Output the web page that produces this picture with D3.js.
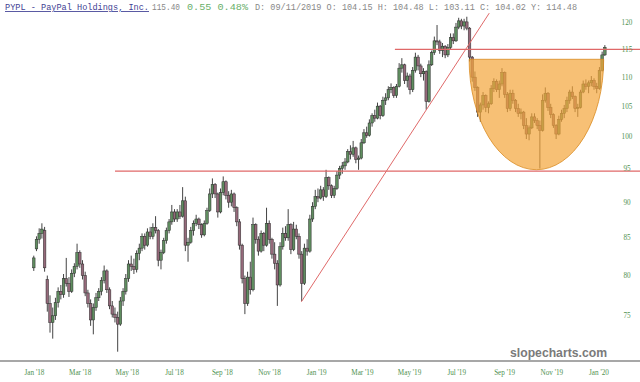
<!DOCTYPE html>
<html><head><meta charset="utf-8">
<script src="https://cdn.jsdelivr.net/npm/d3@7"></script>
<style>body{margin:0;background:#fff}svg{display:block}</style>
</head><body><svg id="c" width="640" height="382"></svg>
<script>
// ---- data (half-week candles) ----
const open = [81.0,83.5,84.8,85.6,86.0,79.5,76.5,74.2,75.0,76.6,78.0,77.6,79.6,79.0,78.0,80.3,81.2,83.0,81.5,80.0,77.8,76.5,74.5,76.0,77.2,78.0,79.4,80.6,78.2,76.2,75.2,74.8,74.0,76.8,78.0,79.6,81.5,81.2,80.8,82.9,83.6,85.2,84.0,85.8,85.2,86.4,86.0,82.0,83.0,84.6,86.0,87.2,
88.6,87.6,88.6,88.0,90.2,84.0,84.4,86.0,87.0,87.6,86.8,85.4,87.0,88.8,91.2,92.6,91.2,88.6,91.4,93.0,91.0,90.0,91.2,89.2,87.2,84.0,79.6,76.5,79.8,78.2,86.8,84.8,83.2,85.6,84.0,87.0,84.8,82.8,81.6,78.8,83.8,85.6,85.0,86.8,83.4,86.2,85.2,82.8,79.0,83.6,83.2,87.6,89.4,90.8,90.6,91.8,90.8,
93.6,92.4,91.0,92.0,94.0,95.0,95.4,96.0,97.6,97.2,98.2,96.4,96.6,99.0,100.6,100.2,102.2,103.4,103.0,105.0,103.4,106.0,106.4,107.8,108.2,106.8,108.4,111.6,112.2,109.4,110.2,107.8,111.2,113.6,112.0,110.6,111.0,105.8,112.2,114.4,116.6,116.4,114.8,115.6,114.0,115.4,117.2,116.6,119.2,120.4,119.4,120.2,119.0,
113.6,110.0,108.2,104.0,105.2,106.8,104.8,105.4,108.0,109.2,107.8,108.8,110.8,107.0,104.6,107.2,106.0,104.6,103.8,104.0,101.8,100.4,101.4,103.2,102.6,101.8,101.0,106.0,107.2,104.8,103.6,101.8,100.4,102.8,103.8,104.6,106.0,107.4,106.6,104.6,104.8,107.4,108.8,108.4,109.0,109.4,108.4,108.0,111.2,114.0];
const high = [82.6,85.2,86.3,87.0,86.5,80.0,77.5,76.0,77.2,78.5,78.8,80.2,82.3,79.8,80.8,81.6,84.2,83.3,82.0,80.5,78.2,77.0,76.5,77.8,78.4,79.8,81.3,80.8,78.5,76.8,76.0,75.5,77.3,78.4,80.2,82.0,82.6,82.2,83.3,84.2,85.6,85.6,86.3,86.5,87.0,88.0,86.2,83.4,85.0,86.4,87.6,89.6,
89.0,89.0,89.6,92.2,90.8,85.0,86.5,87.4,88.2,87.8,87.0,87.4,89.2,92.0,93.5,92.8,91.4,92.0,93.8,93.2,91.6,91.8,91.4,89.4,87.6,84.2,80.0,80.5,81.8,87.8,87.0,85.2,86.0,85.8,89.2,87.4,85.0,84.4,82.0,84.4,86.4,86.6,89.0,87.0,87.2,86.8,85.6,83.2,84.2,84.8,88.2,90.0,91.8,92.0,92.4,92.2,94.8,
93.8,92.6,92.4,94.6,95.4,96.0,96.6,98.0,98.6,99.3,98.4,97.0,99.6,101.2,101.6,102.8,103.8,104.4,105.6,105.2,106.6,107.2,108.4,108.9,108.4,108.8,112.5,113.4,112.4,110.8,110.6,111.8,114.4,114.0,112.4,111.6,111.2,113.0,114.8,117.4,119.6,116.8,116.2,115.8,116.0,118.0,118.0,120.0,121.0,120.8,120.8,121.2,119.2,
113.8,111.0,108.4,105.6,107.4,107.0,105.8,108.6,109.8,109.6,109.4,111.6,111.0,107.4,107.8,107.8,106.2,105.4,104.6,104.2,103.0,101.8,103.8,103.8,103.0,102.6,107.0,108.2,107.4,105.4,103.8,102.0,103.4,104.4,105.2,106.6,107.8,108.4,106.8,105.4,107.8,109.4,109.6,109.4,110.2,109.8,109.0,111.8,114.6,115.8];
const low = [80.6,83.2,84.2,84.9,80.5,75.5,73.0,72.3,74.5,76.0,77.0,77.2,78.6,77.3,77.8,79.8,80.8,81.0,79.5,77.4,76.0,73.8,72.8,75.6,76.8,77.5,79.0,77.8,75.8,74.8,74.2,70.8,73.8,76.2,77.6,79.2,80.6,80.2,80.4,82.0,83.2,83.4,83.8,84.8,84.8,85.6,81.2,80.8,82.8,84.2,85.6,86.8,
87.2,87.2,87.6,87.8,83.2,81.8,84.2,85.3,86.6,86.2,85.0,85.2,86.8,88.6,90.6,90.6,87.8,88.4,91.0,90.4,89.2,89.4,88.6,86.6,83.4,79.0,75.2,76.2,77.6,78.0,84.2,82.6,83.0,83.2,83.8,84.2,82.2,80.8,76.2,78.6,83.4,84.6,84.6,82.8,83.2,84.8,82.2,76.8,78.8,82.6,83.0,87.2,89.0,90.0,90.4,90.2,90.6,
91.8,90.6,90.6,91.8,93.4,94.2,94.8,95.8,96.4,96.8,95.8,94.8,96.4,98.8,99.8,100.0,101.6,102.4,102.8,102.8,103.2,105.2,106.0,107.2,106.4,106.4,108.2,110.8,108.8,108.2,107.0,107.4,110.8,111.2,110.0,109.4,104.4,105.6,112.0,114.0,115.8,114.2,113.6,113.4,113.6,115.0,116.0,116.4,118.8,118.8,118.6,118.6,112.8,
109.2,107.6,103.2,102.4,104.4,104.0,103.8,105.2,107.4,107.4,106.4,108.4,106.4,104.0,104.2,105.4,104.0,103.2,102.8,101.2,99.6,99.4,101.2,102.2,101.2,95.0,100.8,105.6,104.2,103.0,101.4,99.6,100.2,102.4,103.0,104.0,105.4,106.2,104.0,103.2,104.6,107.2,107.8,107.2,108.4,107.8,107.2,107.8,111.0,113.8];
const close = [82.3,84.8,85.6,86.2,81.0,76.5,74.2,75.0,76.6,78.0,77.6,79.6,79.0,78.0,80.3,81.2,83.0,81.5,80.0,77.8,76.5,74.5,76.0,77.2,78.0,79.4,80.6,78.2,76.2,75.2,74.8,74.0,76.8,78.0,79.6,81.5,81.2,80.8,82.9,83.6,85.2,84.0,85.8,85.2,86.4,86.0,82.0,83.0,84.6,86.0,87.2,88.6,
87.6,88.6,88.0,90.2,84.0,84.4,86.0,87.0,87.6,86.8,85.4,87.0,88.8,91.2,92.6,91.2,88.6,91.4,93.0,91.0,90.0,91.2,89.2,87.2,84.0,79.6,76.5,79.8,78.2,86.8,84.8,83.2,85.6,84.0,87.0,84.8,82.8,81.6,78.8,83.8,85.6,85.0,86.8,83.4,86.2,85.2,82.8,79.0,83.6,83.2,87.6,89.4,90.8,90.6,91.8,90.8,93.6,
92.4,91.0,92.0,94.0,95.0,95.4,96.0,97.6,97.2,98.2,96.4,96.6,99.0,100.6,100.2,102.2,103.4,103.0,105.0,103.4,106.0,106.4,107.8,108.2,106.8,108.4,111.6,112.2,109.4,110.2,107.8,111.2,113.6,112.0,110.6,111.0,105.8,112.2,114.4,116.6,116.4,114.8,115.6,114.0,115.4,117.2,116.6,119.2,120.4,119.4,120.2,119.0,113.6,
110.0,108.2,104.0,105.2,106.8,104.8,105.4,108.0,109.2,107.8,108.8,110.8,107.0,104.6,107.2,106.0,104.6,103.8,104.0,101.8,100.4,101.4,103.2,102.6,101.8,101.0,106.0,107.2,104.8,103.6,101.8,100.4,102.8,103.8,104.6,106.0,107.4,106.6,104.6,104.8,107.4,108.8,108.4,109.0,109.4,108.4,108.0,111.2,114.0,115.4];

const firstDate = new Date(2018, 0, 2);
const dates = close.map((_, i) => new Date(firstDate.getTime() + i * 3.5 * 864e5));

const yTicks = [75, 80, 85, 90, 95, 100, 105, 110, 115, 120];
const xTickDates = [new Date(2018,0,1),new Date(2018,2,1),new Date(2018,4,1),new Date(2018,6,1),new Date(2018,8,1),new Date(2018,10,1),
  new Date(2019,0,1),new Date(2019,2,1),new Date(2019,4,1),new Date(2019,6,1),new Date(2019,8,1),new Date(2019,10,1),new Date(2020,0,1)];
const xTickLabels = ["Jan '18","Mar '18","May '18","Jul '18","Sep '18","Nov '18","Jan '19","Mar '19","May '19","Jul '19","Sep '19","Nov '19","Jan '20"];

const levelPrices = [115.0, 94.6];
const levelStarts = [new Date(2019,3,14), new Date(2018,3,17)];
const trendDates = [new Date(2018,11,14), new Date(2019,7,14)];
const trendPrices = [76.7, 121.9];
const cupDates = [new Date(2019,6,19), new Date(2020,0,9)];
const cupPrices = [113.2, 94.8];

const headerTitle = "PYPL - PayPal Holdings, Inc.";
const headerLast = "115.40";
const headerChange = "0.55  0.48%";
const headerInfo = "D: 09/11/2019 O: 104.15 H: 104.48 L: 103.11 C: 104.02 Y: 114.48";

// ---- drawing ----
const W = 640, H = 382;
const svg = d3.select("#c");
const x = d3.scaleTime().domain([new Date(2018,0,1), new Date(2020,0,1)]).range([33, 597.5]);
const y = d3.scaleLog().domain([69.75, 124.5]).range([361, 0]);

// candles
const g = svg.append("g");
const idx = d3.range(close.length);
g.selectAll("line.wick").data(idx).join("line").attr("class", "wick")
  .attr("x1", i => x(dates[i])).attr("x2", i => x(dates[i]))
  .attr("y1", i => y(high[i])).attr("y2", i => y(low[i]))
  .attr("stroke", "#2f2f2f").attr("stroke-width", 0.9);
g.selectAll("rect.body").data(idx).join("rect").attr("class", "body")
  .attr("x", i => x(dates[i]) - 1.3).attr("width", 2.6)
  .attr("y", i => y(Math.max(open[i], close[i])))
  .attr("height", i => Math.max(0.8, Math.abs(y(open[i]) - y(close[i]))))
  .attr("fill", i => close[i] >= open[i] ? "#5f8d5f" : "#95697a")
  .attr("stroke", "#2a2a2a").attr("stroke-width", 0.5);

// cup
const cx1 = x(cupDates[0]), cx2 = x(cupDates[1]);
const cTop = y(cupPrices[0]), cBot = y(cupPrices[1]);
svg.append("path")
  .attr("d", `M${cx1},${cTop} A${(cx2-cx1)/2},${cBot-cTop} 0 0 0 ${cx2},${cTop} Z`)
  .attr("fill", "#f3a53a").attr("fill-opacity", 0.7)
  .attr("stroke", "#d98a20").attr("stroke-width", 0.8);

// horizontal levels
svg.selectAll("line.level").data(levelPrices).join("line").attr("class", "level")
  .attr("x1", (p, i) => x(levelStarts[i])).attr("x2", W)
  .attr("y1", p => y(p)).attr("y2", p => y(p))
  .attr("stroke", "#e06868").attr("stroke-width", 1.3);
// trend line
svg.append("line")
  .attr("x1", x(trendDates[0])).attr("y1", y(trendPrices[0]))
  .attr("x2", x(trendDates[1])).attr("y2", y(trendPrices[1]))
  .attr("stroke", "#e06a6a").attr("stroke-width", 1);

// bottom axis
svg.append("line").attr("x1", 0).attr("x2", W).attr("y1", 361).attr("y2", 361)
  .attr("stroke", "#8a8a8a").attr("stroke-width", 1.5);
svg.selectAll("text.xl").data(xTickDates).join("text").attr("class", "xl")
  .attr("x", d => x(d) + 1.5).attr("y", 375)
  .attr("text-anchor", "middle").attr("font-family", "Liberation Serif, serif")
  .attr("font-size", 7.2).attr("fill", "#4f9250")
  .text((d, i) => xTickLabels[i]);

// right axis labels
svg.selectAll("text.yl").data(yTicks).join("text").attr("class", "yl")
  .attr("x", 627).attr("y", v => y(v)).attr("dy", "0.35em")
  .attr("text-anchor", "middle").attr("font-family", "Liberation Serif, serif")
  .attr("font-size", 7.2).attr("fill", "#4f9250")
  .text(v => v);

// watermark
svg.append("text").attr("x", 510).attr("y", 357)
  .attr("font-family", "Liberation Sans, Arial, sans-serif").attr("font-weight", "bold")
  .attr("font-size", 13.5).attr("fill", "#7a7a7a")
  .attr("textLength", 97).attr("lengthAdjust", "spacingAndGlyphs")
  .text("slopecharts.com");

// header
const hf = "Courier New, Liberation Mono, monospace";
svg.append("text").attr("x", 5).attr("y", 10).attr("font-family", hf).attr("font-size", 8.6)
  .attr("fill", "#3f3f94").attr("text-decoration", "underline")
  .attr("textLength", 144).attr("lengthAdjust", "spacingAndGlyphs").text(headerTitle);
svg.append("text").attr("x", 152).attr("y", 10).attr("font-family", hf).attr("font-size", 8.6)
  .attr("fill", "#888").attr("textLength", 28).attr("lengthAdjust", "spacingAndGlyphs").text(headerLast);
svg.append("text").attr("x", 187).attr("y", 10).attr("font-family", hf).attr("font-size", 8.6)
  .attr("fill", "#6ab06a").attr("textLength", 61).attr("lengthAdjust", "spacingAndGlyphs").text(headerChange);
svg.append("text").attr("x", 255).attr("y", 10).attr("font-family", hf).attr("font-size", 8.6)
  .attr("fill", "#888").attr("textLength", 322).attr("lengthAdjust", "spacingAndGlyphs").text(headerInfo);
</script></body></html>
